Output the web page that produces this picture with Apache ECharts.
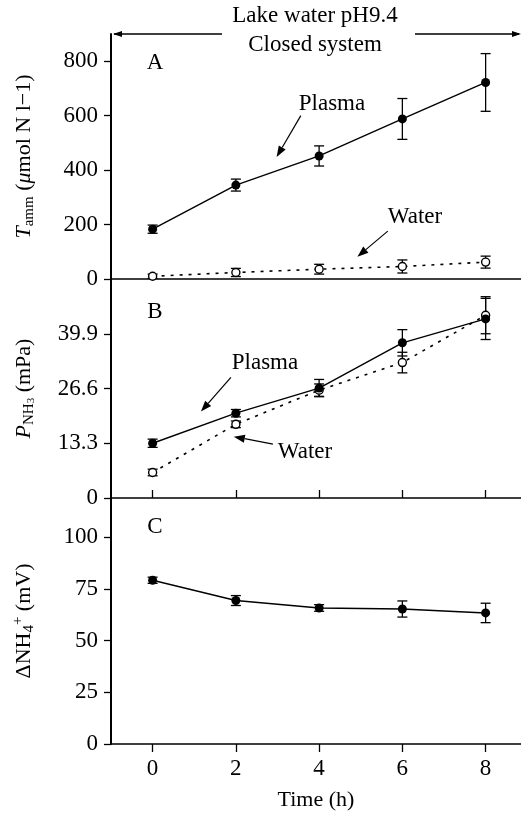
<!DOCTYPE html>
<html>
<head>
<meta charset="utf-8">
<script src="https://cdn.jsdelivr.net/npm/echarts@6/dist/echarts.min.js"></script>
<style>html,body{margin:0;padding:0;background:#fff}#chart{width:521px;height:816px}</style>
</head>
<body>
<div id="chart"></div>
<script>
var hours = [0, 2, 4, 6, 8];
var hourTicks = [0, 2, 4, 6, 8];
// panel A - total ammonia
var plasmaAmm = [183, 345, 452, 588, 722];
var plasmaAmmErr = [15, 22, 37, 75, 106];
var waterAmm = [10, 24, 36, 46, 62];
var waterAmmErr = [8, 15, 18, 24, 22];
var ammTicks = [0, 200, 400, 600, 800];
// panel B - P NH3
var plasmaPnh3 = [13.3, 20.6, 26.7, 37.7, 43.5];
var plasmaPnh3Err = [1.0, 0.9, 2.1, 3.2, 5.0];
var waterPnh3 = [6.2, 17.9, 26.2, 32.9, 44.4];
var waterPnh3Err = [0.8, 0.8, 1.5, 2.5, 4.5];
var pnh3Ticks = [0, 13.3, 26.6, 39.9];
// panel C - delta NH4+
var deltaNH4 = [79.2, 69.4, 65.8, 65.3, 63.4];
var deltaNH4Err = [1.5, 2.4, 1.6, 3.9, 4.7];
var deltaTicks = [0, 25, 50, 75, 100];

var FONT = 'Liberation Serif';
var chart = echarts.init(document.getElementById('chart'));

function pairs(xs, ys) {
    return xs.map(function(x, i) { return [x, ys[i]]; });
}
function triples(xs, ys, es) {
    return xs.map(function(x, i) { return [x, ys[i], es[i]]; });
}

function errorBar(params, api) {
    var x = api.value(0), y = api.value(1), e = api.value(2);
    var top = api.coord([x, y + e]);
    var bot = api.coord([x, y - e]);
    var w = 5;
    var st = {stroke: '#000', lineWidth: 1.3};
    return {type: 'group', children: [
        {type: 'line', shape: {x1: top[0], y1: top[1], x2: bot[0], y2: bot[1]}, style: st},
        {type: 'line', shape: {x1: top[0] - w, y1: top[1], x2: top[0] + w, y2: top[1]}, style: st},
        {type: 'line', shape: {x1: bot[0] - w, y1: bot[1], x2: bot[0] + w, y2: bot[1]}, style: st}
    ]};
}

function errSeries(idx, xs, ys, es) {
    return {
        type: 'custom', xAxisIndex: idx, yAxisIndex: idx,
        renderItem: errorBar, encode: {x: 0, y: 1},
        data: triples(xs, ys, es), z: 2, silent: true
    };
}

// annotation arrows (tail x, tail y, head x, head y) in data units of their panel
function drawArrow(params, api) {
    var a = api.coord([api.value(0), api.value(1)]);
    var b = api.coord([api.value(2), api.value(3)]);
    var ang = Math.atan2(b[1] - a[1], b[0] - a[0]);
    var len = 11, half = 4;
    var bx = b[0] - len * Math.cos(ang), by = b[1] - len * Math.sin(ang);
    var px = -Math.sin(ang) * half, py = Math.cos(ang) * half;
    return {type: 'group', children: [
        {type: 'line', shape: {x1: a[0], y1: a[1], x2: bx, y2: by}, style: {stroke: '#000', lineWidth: 1.2}},
        {type: 'polygon', shape: {points: [[b[0], b[1]], [bx + px, by + py], [bx - px, by - py]]}, style: {fill: '#000'}}
    ]};
}
function arrowSeries(idx, list) {
    return {
        type: 'custom', xAxisIndex: idx, yAxisIndex: idx,
        renderItem: drawArrow, data: list, z: 5, silent: true,
        encode: {x: [0, 2], y: [1, 3]}
    };
}

function plasmaLine(idx, ys) {
    return {
        type: 'line', xAxisIndex: idx, yAxisIndex: idx,
        data: pairs(hours, ys),
        symbol: 'circle', symbolSize: 9,
        itemStyle: {color: '#000'},
        lineStyle: {color: '#000', width: 1.4},
        z: 4, silent: true
    };
}
function waterLine(idx, ys) {
    return {
        type: 'line', xAxisIndex: idx, yAxisIndex: idx,
        data: pairs(hours, ys),
        symbol: 'circle', symbolSize: 8,
        itemStyle: {color: '#fff', borderColor: '#000', borderWidth: 1.4},
        lineStyle: {color: '#000', width: 1.6, type: [3, 6]},
        z: 3, silent: true
    };
}

var tickFont = {fontFamily: FONT, fontSize: 23, color: '#000'};
var richName = {
    n: {fontFamily: FONT, fontSize: 22, color: '#000', lineHeight: 26},
    i: {fontFamily: FONT, fontSize: 22, color: '#000', fontStyle: 'italic', lineHeight: 26},
    sub: {fontFamily: FONT, fontSize: 15, color: '#000', lineHeight: 15, verticalAlign: 'bottom'},
    sub2: {fontFamily: FONT, fontSize: 11, color: '#000', lineHeight: 11, verticalAlign: 'bottom'},
    sup: {fontFamily: FONT, fontSize: 15, color: '#000', lineHeight: 15, verticalAlign: 'top'}
};

function xAxisFor(idx, opts) {
    return Object.assign({
        type: 'value', gridIndex: idx, min: -1, max: 8.85,
        splitLine: {show: false},
        axisLine: {onZero: false, lineStyle: {color: '#000', width: 1.6}},
        axisTick: {show: false},
        axisLabel: {show: false}
    }, opts);
}
function yAxisFor(idx, max, ticks, name) {
    return {
        type: 'value', gridIndex: idx, min: 0, max: max,
        splitLine: {show: false},
        axisLine: {show: true, onZero: false, lineStyle: {color: '#000', width: 2}},
        axisTick: {show: true, length: 7, customValues: ticks, lineStyle: {color: '#000', width: 1.3}},
        axisLabel: Object.assign({customValues: ticks, margin: 13}, tickFont),
        name: name, nameLocation: 'middle', nameRotate: 90, nameGap: 74,
        nameTextStyle: {rich: richName}
    };
}

function label(text, x, y) {
    return {type: 'text', x: x, y: y, style: {text: text, font: '23px "Liberation Serif"', fill: '#000', align: 'center', verticalAlign: 'middle'}};
}

var option = {
    animation: false,
    backgroundColor: '#fff',
    grid: [
        {left: 111, right: 0, top: 34, height: 245},
        {left: 111, right: 0, top: 279, height: 219},
        {left: 111, right: 0, top: 498, height: 246}
    ],
    xAxis: [
        xAxisFor(0, {}),
        xAxisFor(1, {axisTick: {show: true, inside: true, length: 8, customValues: hourTicks, lineStyle: {color: '#000', width: 1.3}}}),
        xAxisFor(2, {
            axisTick: {show: true, length: 8, customValues: hourTicks, lineStyle: {color: '#000', width: 1.3}},
            axisLabel: Object.assign({show: true, customValues: hourTicks, margin: 13}, tickFont),
            name: 'Time (h)', nameLocation: 'middle', nameGap: 45,
            nameTextStyle: {fontFamily: FONT, fontSize: 22, color: '#000'}
        })
    ],
    yAxis: [
        yAxisFor(0, 900, ammTicks, '{i|T}{sub|amm}{n| (}{i|μ}{n|mol N l−1)}'),
        yAxisFor(1, 53.2, pnh3Ticks, '{i|P}{sub|NH}{sub2|3}{n| (mPa)}'),
        yAxisFor(2, 119, deltaTicks, '{n|ΔNH}{sub|4}{sup|+}{n| (mV)}')
    ],
    series: [
        errSeries(0, hours, plasmaAmm, plasmaAmmErr),
        errSeries(0, hours, waterAmm, waterAmmErr),
        plasmaLine(0, plasmaAmm),
        waterLine(0, waterAmm),
        arrowSeries(0, [[3.56, 600, 2.98, 448], [5.65, 176, 4.92, 82]]),
        errSeries(1, hours, plasmaPnh3, plasmaPnh3Err),
        errSeries(1, hours, waterPnh3, waterPnh3Err),
        plasmaLine(1, plasmaPnh3),
        waterLine(1, waterPnh3),
        arrowSeries(1, [[1.88, 29.3, 1.16, 21.0], [2.89, 13.1, 1.95, 14.9]]),
        errSeries(2, hours, deltaNH4, deltaNH4Err),
        plasmaLine(2, deltaNH4)
    ],
    graphic: [
        label('Lake water pH9.4', 315, 16),
        label('Closed system', 315, 45),
        {type: 'line', shape: {x1: 114, y1: 34, x2: 222, y2: 34}, style: {stroke: '#000', lineWidth: 1.3}},
        {type: 'line', shape: {x1: 415, y1: 34, x2: 519, y2: 34}, style: {stroke: '#000', lineWidth: 1.3}},
        {type: 'polygon', shape: {points: [[113, 34], [122, 31], [122, 37]]}, style: {fill: '#000'}},
        {type: 'polygon', shape: {points: [[521, 34], [512, 31], [512, 37]]}, style: {fill: '#000'}},
        label('A', 155, 63),
        label('B', 155, 312),
        label('C', 155, 527),
        label('Plasma', 332, 104),
        label('Water', 415, 217),
        label('Plasma', 265, 363),
        label('Water', 305, 452)
    ]
};
chart.setOption(option);
</script>
</body>
</html>
